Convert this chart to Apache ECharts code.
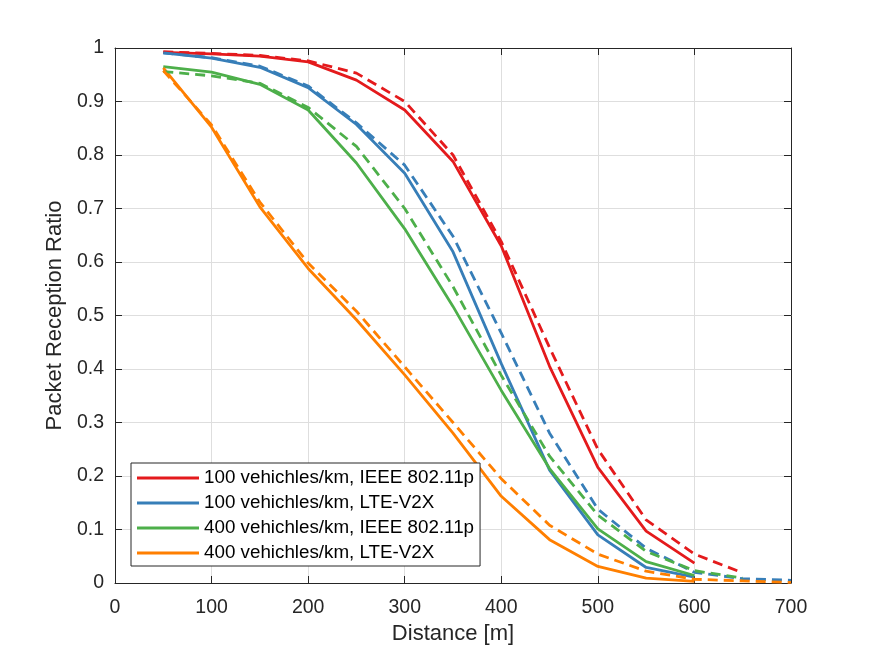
<!DOCTYPE html>
<html>
<head>
<meta charset="utf-8">
<script src="https://cdn.jsdelivr.net/npm/echarts@6/dist/echarts.min.js"></script>
<style>
  html, body { margin: 0; padding: 0; background: #fff; }
  #chart { width: 875px; height: 656px; }
</style>
</head>
<body>
<div id="chart"></div>
<script>
// distances [m]
var distShort = [50, 100, 150, 200, 250, 300, 350, 400, 450, 500, 550, 600];
var distLong = [50, 100, 150, 200, 250, 300, 350, 400, 450, 500, 550, 600, 650, 700];

var legendNames = [
  '100 vehichles/km, IEEE 802.11p',
  '100 vehichles/km, LTE-V2X',
  '400 vehichles/km, IEEE 802.11p',
  '400 vehichles/km, LTE-V2X'
];

// solid curves
var red100Ieee = [0.992, 0.989, 0.985, 0.974, 0.940, 0.884, 0.788, 0.630, 0.405, 0.216, 0.097, 0.037];
var blue100Lte = [0.991, 0.981, 0.964, 0.926, 0.857, 0.766, 0.619, 0.410, 0.211, 0.090, 0.029, 0.011];
var green400Ieee = [0.965, 0.955, 0.932, 0.884, 0.785, 0.662, 0.517, 0.360, 0.214, 0.101, 0.040, 0.014];
var orange400Lte = [0.963, 0.852, 0.703, 0.588, 0.492, 0.389, 0.280, 0.162, 0.081, 0.031, 0.009, 0.003];

// dashed curves
var red100IeeeDash = [0.993, 0.990, 0.986, 0.976, 0.953, 0.900, 0.800, 0.638, 0.440, 0.250, 0.118, 0.054, 0.019];
var blue100LteDash = [0.991, 0.982, 0.966, 0.929, 0.860, 0.781, 0.648, 0.467, 0.280, 0.138, 0.065, 0.020, 0.008, 0.005];
var green400IeeeDash = [0.956, 0.948, 0.934, 0.889, 0.816, 0.700, 0.554, 0.388, 0.237, 0.127, 0.059, 0.023, 0.009];
var orange400LteDash = [0.958, 0.856, 0.712, 0.598, 0.508, 0.404, 0.300, 0.195, 0.108, 0.054, 0.022, 0.007, 0.004, 0.001];

var colors = ['#e41a1c', '#377eb8', '#4daf4a', '#ff7f00'];

function pairs(xs, ys) {
  var out = [];
  for (var i = 0; i < ys.length; i++) out.push([xs[i], ys[i]]);
  return out;
}

function line(name, xs, ys, color, dashed) {
  return {
    name: name,
    type: 'line',
    data: pairs(xs, ys),
    showSymbol: false,
    symbol: 'none',
    silent: true,
    animation: false,
    lineStyle: { color: color, width: 2.8, type: dashed ? [10, 6] : 'solid' },
    itemStyle: { color: color }
  };
}

var axisCol = '#262626';
var font = 'Liberation Sans, Arial, Helvetica, sans-serif';

var myChart = echarts.init(document.getElementById('chart'));
myChart.setOption({
  backgroundColor: '#fff',
  animation: false,
  grid: { left: 115, right: 84, top: 48, bottom: 73, show: false },
  legend: {
    orient: 'vertical',
    left: 131,
    top: 463,
    data: legendNames,
    icon: 'rect',
    itemWidth: 62,
    itemHeight: 3,
    itemGap: 5,
    padding: [5, 6, 3, 6],
    borderColor: axisCol,
    borderWidth: 1,
    backgroundColor: '#fff',
    selectedMode: false,
    textStyle: { fontFamily: font, fontSize: 18.8, color: '#000', lineHeight: 20 }
  },
  xAxis: [{
    type: 'value', min: 0, max: 700, interval: 100,
    name: 'Distance [m]', nameLocation: 'middle', nameGap: 38,
    nameTextStyle: { fontFamily: font, fontSize: 22, color: axisCol },
    axisLine: { show: true, lineStyle: { color: axisCol, width: 1 } },
    axisTick: { show: true, inside: true, length: 7, lineStyle: { color: axisCol } },
    axisLabel: { fontFamily: font, fontSize: 19.5, color: axisCol, margin: 15 },
    splitLine: { show: true, lineStyle: { color: '#dedede', width: 1 } }
  }, {
    type: 'value', min: 0, max: 700, interval: 100, position: 'top',
    axisLine: { show: true, onZero: false, lineStyle: { color: axisCol, width: 1 } },
    axisTick: { show: true, inside: true, length: 7, lineStyle: { color: axisCol } },
    axisLabel: { show: false },
    splitLine: { show: false }
  }],
  yAxis: [{
    type: 'value', min: 0, max: 1, interval: 0.1,
    name: 'Packet Reception Ratio', nameLocation: 'middle', nameGap: 43,
    nameTextStyle: { fontFamily: font, fontSize: 22, color: axisCol },
    axisLine: { show: true, lineStyle: { color: axisCol, width: 1 } },
    axisTick: { show: true, inside: true, length: 7, lineStyle: { color: axisCol } },
    axisLabel: { fontFamily: font, fontSize: 19.5, color: axisCol, margin: 11 },
    splitLine: { show: true, lineStyle: { color: '#dedede', width: 1 } }
  }, {
    type: 'value', min: 0, max: 1, interval: 0.1, position: 'right',
    axisLine: { show: true, onZero: false, lineStyle: { color: axisCol, width: 1 } },
    axisTick: { show: true, inside: true, length: 7, lineStyle: { color: axisCol } },
    axisLabel: { show: false },
    splitLine: { show: false }
  }],
  series: [
    line(legendNames[0], distShort, red100Ieee, colors[0], false),
    line(legendNames[1], distShort, blue100Lte, colors[1], false),
    line(legendNames[2], distShort, green400Ieee, colors[2], false),
    line(legendNames[3], distShort, orange400Lte, colors[3], false),
    line('dash1', distLong, red100IeeeDash, colors[0], true),
    line('dash2', distLong, blue100LteDash, colors[1], true),
    line('dash3', distLong, green400IeeeDash, colors[2], true),
    line('dash4', distLong, orange400LteDash, colors[3], true)
  ]
});
</script>
</body>
</html>
